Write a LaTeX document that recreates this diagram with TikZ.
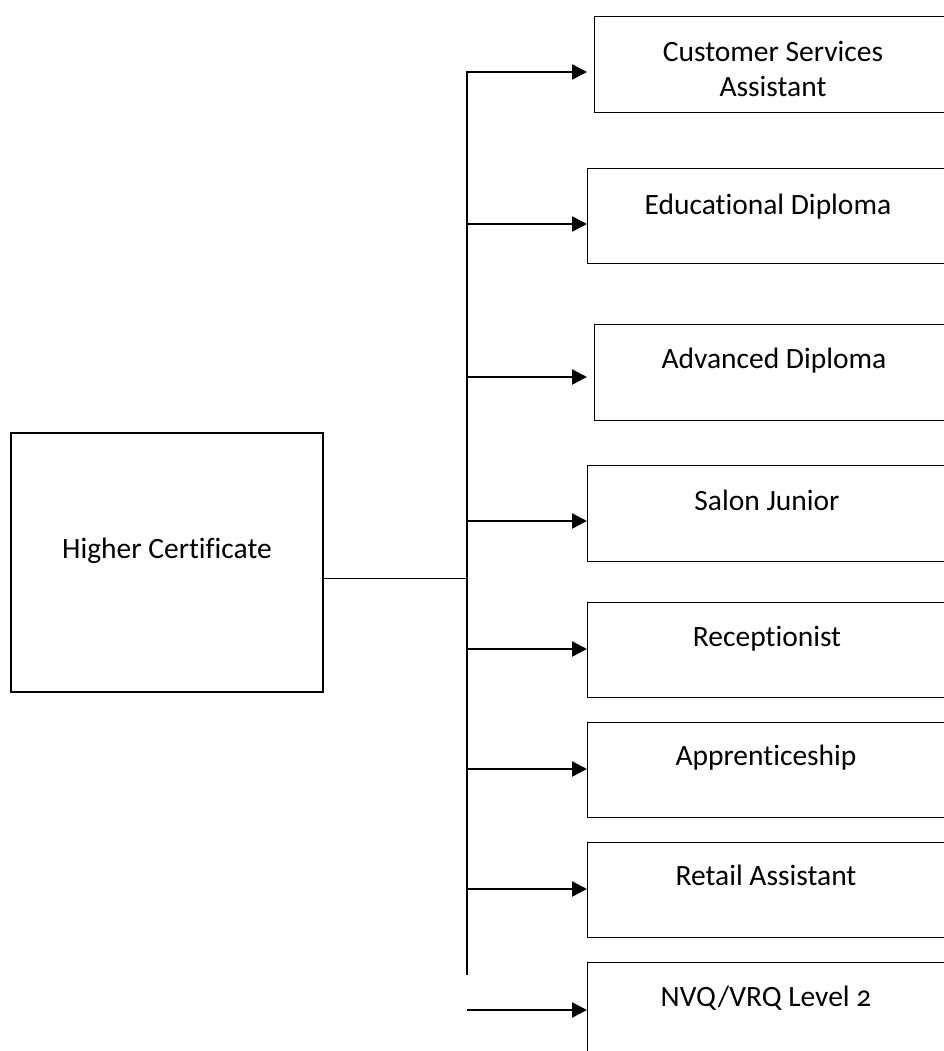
\documentclass[tikz,border=0pt]{standalone}
\usepackage{fontspec}
\setmainfont[Numbers=OldStyle,Ligatures=NoCommon]{Carlito}
\usetikzlibrary{arrows.meta}
\begin{document}
\begin{tikzpicture}[x=1pt,y=-1pt,
  box/.style={draw=black,line width=1.4pt,rectangle,inner sep=0pt},
  lbl/.style={anchor=base,inner sep=0pt,font=\fontsize{29.5}{35}\selectfont},
  arr/.style={line width=2.4pt,-{Triangle[length=15pt,width=15pt]}},
  link/.style={line width=1.3pt}]
\useasboundingbox (0,0) rectangle (943,1051);
% main box
\node[box,minimum width=312pt,minimum height=259pt] (hc) at (167,562.5) {};
\node[lbl] (thc) at (167,558) {Higher Certificate};
% right boxes
\node[box,minimum width=360pt,minimum height=96pt,anchor=north west] (b1) at (594,16) {};
\node[box,minimum width=370pt,minimum height=95pt,anchor=north west] (b2) at (587,168) {};
\node[box,minimum width=360pt,minimum height=96pt,anchor=north west] (b3) at (594,324) {};
\node[box,minimum width=370pt,minimum height=96pt,anchor=north west] (b4) at (587,465) {};
\node[box,minimum width=370pt,minimum height=95pt,anchor=north west] (b5) at (587,602) {};
\node[box,minimum width=370pt,minimum height=95pt,anchor=north west] (b6) at (587,722) {};
\node[box,minimum width=370pt,minimum height=95pt,anchor=north west] (b7) at (587,842) {};
\node[box,minimum width=370pt,minimum height=120pt,anchor=north west] (b8) at (587,962) {};
% labels
\node[lbl] (t1a) at (773,62) {Customer Services};
\node[lbl] (t1b) at (773,97) {Assistant};
\node[lbl] (t2) at (768,214) {Educational Diploma};
\node[lbl] (t3) at (774,368) {Advanced Diploma};
\node[lbl] (t4) at (767,510) {Salon Junior};
\node[lbl] (t5) at (767,646) {Receptionist};
\node[lbl] (t6) at (766,765) {Apprenticeship};
\node[lbl] (t7) at (766,885) {Retail Assistant};
\node[lbl] (t8) at (766,1006) {NVQ/VRQ Level 2};
% trunk
\coordinate (top) at (467,71);
\coordinate (bot) at (467,975);
\coordinate (hj) at (467,578);
\draw[link] (top) -- (bot);
\draw[line width=1pt] (hc.east |- hj) -- (hj);
% arrows
\foreach \n/\y in {1/72,2/224,3/377,4/521,5/649,6/769,7/889,8/1010}{
  \coordinate (s\n) at (467,\y);
  \coordinate (e\n) at (587,\y);
  \draw[arr] (s\n) -- (e\n);
}
\end{tikzpicture}
\end{document}
